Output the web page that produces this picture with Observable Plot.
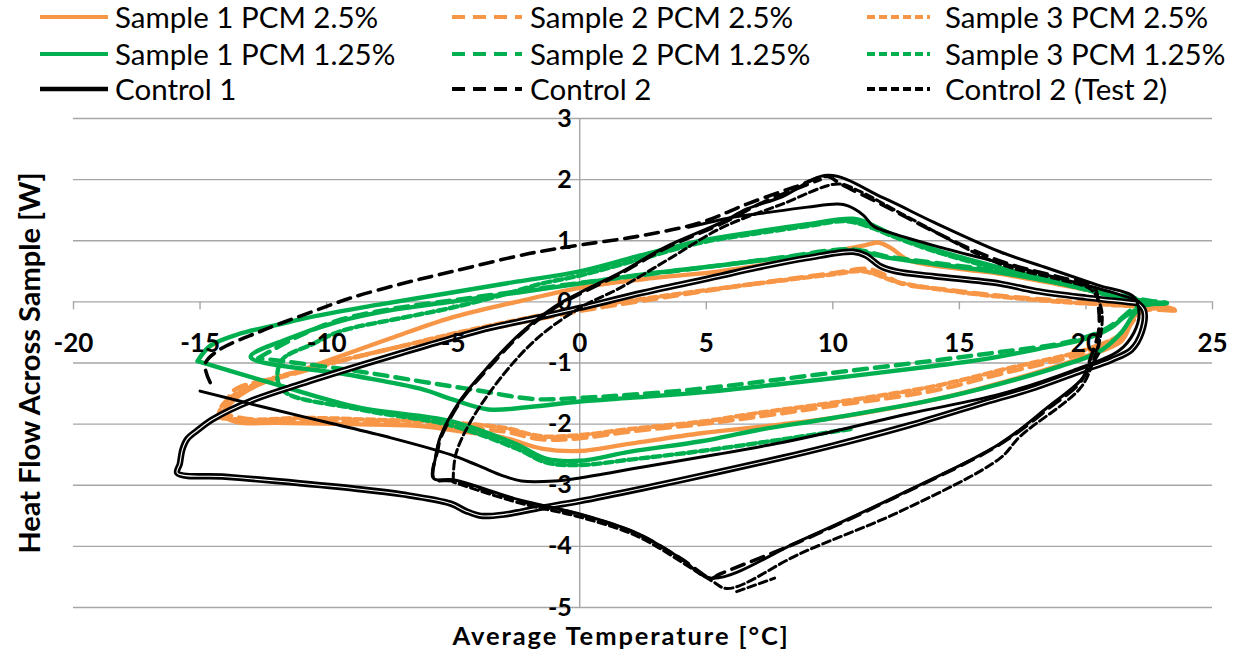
<!DOCTYPE html>
<html><head><meta charset="utf-8">
<script src="https://cdn.jsdelivr.net/npm/d3@7"></script>
<script src="https://cdn.jsdelivr.net/npm/@observablehq/plot@0.6"></script>
<style>
body{margin:0;background:#fff;font-family:Lato,"Open Sans",sans-serif;}
#legend{position:relative;height:112px;width:1239px;}
.sw{position:absolute;}
.lt{position:absolute;font-size:29.5px;line-height:22px;height:22px;white-space:nowrap;color:#000;}
</style></head><body>
<div id="legend"></div>
<div id="chart"></div>
<script>
// ---- data ----
const xTicks = [-20,-15,-10,-5,0,5,10,15,20,25];
const yTicks = [3,2,1,0,-1,-2,-3,-4,-5];
const xTitle = "Average Temperature [°C]";
const yTitle = "Heat Flow Across Sample [W]";
const seriesNames = ["Sample 1 PCM 2.5%","Sample 2 PCM 2.5%","Sample 3 PCM 2.5%",
  "Sample 1 PCM 1.25%","Sample 2 PCM 1.25%","Sample 3 PCM 1.25%",
  "Control 1","Control 2","Control 2 (Test 2)"];

const o1 = [[-14.2,-1.85],[-13.5,-1.55],[-12.6,-1.34],[-11,-1.12],[-10,-0.97],[-7.5,-0.6],[-5.1,-0.26],[-2.5,0.0],[0,0.23],[2.5,0.37],[5.5,0.5],[8,0.66],[10,0.82],[11.2,0.92],[11.8,0.97],[12.3,0.88],[13,0.68],[15,0.54],[16.6,0.46],[19,0.28],[21,0.12],[22.3,0.0],[23.5,-0.13],[22.2,-0.1],[21.9,-0.2],[21.7,-0.42],[21.4,-0.64],[19.8,-0.92],[16.6,-1.33],[14,-1.6],[10,-1.9],[7,-2.05],[4.8,-2.15],[2,-2.32],[0,-2.44],[-1.5,-2.4],[-3,-2.22],[-5,-2.1],[-6.3,-2.03],[-9,-2.0],[-12,-1.98],[-13.5,-1.97],[-14.2,-1.85]];
const o2 = [[-14,-1.75],[-13.7,-1.46],[-11.5,-1.2],[-9,-0.92],[-6.3,-0.66],[-5.1,-0.57],[-2.5,-0.35],[0,-0.15],[2.5,0.02],[5.5,0.21],[8,0.36],[10,0.47],[11.4,0.54],[12,0.45],[12.7,0.3],[14.5,0.2],[16.6,0.1],[19,0.02],[21,-0.04],[22.5,-0.1],[23.6,-0.15],[22.2,-0.15],[21.8,-0.35],[21.3,-0.6],[19.8,-0.85],[16.6,-1.18],[14,-1.45],[10,-1.7],[7,-1.88],[4.8,-2.0],[2,-2.12],[0,-2.23],[-1.5,-2.25],[-3,-2.12],[-5.1,-2.05],[-8,-1.98],[-11,-1.94],[-13,-1.92],[-14,-1.82],[-14,-1.75]];
const o3 = [[-14.3,-1.9],[-14.1,-1.68],[-13,-1.38],[-10,-1.02],[-7,-0.72],[-5,-0.52],[-2.5,-0.3],[0,-0.1],[2.5,0.05],[5.5,0.22],[8,0.35],[10,0.45],[11.2,0.5],[12.6,0.32],[15,0.16],[17,0.07],[19,0.0],[21,-0.05],[22.3,-0.1],[21.9,-0.25],[21.5,-0.5],[20,-0.78],[17,-1.08],[14,-1.38],[10,-1.65],[7,-1.82],[5,-1.95],[2,-2.08],[0,-2.18],[-1.5,-2.2],[-3,-2.06],[-5,-1.98],[-8,-1.93],[-11,-1.9],[-13,-1.93],[-14.3,-1.9]];

const g1a = [[-15.1,-0.97],[-14.6,-0.72],[-13.5,-0.53],[-12,-0.38],[-10.4,-0.23],[-8,-0.05],[-5.1,0.15],[-2.5,0.33],[0,0.5],[2.4,0.76],[4.8,1.0],[7,1.15],[9,1.27],[10.8,1.36],[11.5,1.27],[12.2,1.13],[14,0.86],[16.6,0.56],[19,0.32],[21,0.12],[22.5,0.0],[23.2,-0.02],[22.3,-0.06],[21.9,-0.2],[21.4,-0.5],[20.5,-0.82],[19,-1.05],[16.6,-1.34],[14,-1.6],[10,-1.9],[7,-2.1],[4.8,-2.28],[2,-2.45],[0,-2.6],[-1.3,-2.57],[-2.5,-2.33],[-5.1,-1.95],[-8.7,-1.73],[-12,-1.35],[-15.1,-0.97]];
const g1b = [[22.4,-0.04],[21.5,-0.25],[21,-0.42],[20,-0.6],[18,-0.78],[15.8,-0.95],[14,-1.05],[10,-1.25],[4.8,-1.48],[2,-1.57],[0,-1.63],[-2,-1.72],[-3.6,-1.76],[-5,-1.6],[-6.3,-1.42],[-9,-1.2],[-13,-0.9],[-11.5,-0.6],[-9.6,-0.33],[-7.5,-0.14],[-5.1,0.0],[-2.5,0.15],[0,0.3],[2.5,0.45],[5.6,0.6],[8,0.72],[10.7,0.84],[12.2,0.72],[14,0.62],[16.6,0.48],[19,0.3],[21,0.12],[22.5,0.0]];
const g2 = [[-12.7,-0.92],[-11.2,-0.58],[-9.6,-0.31],[-7.5,-0.12],[-5.1,0.02],[-2.5,0.17],[0,0.31],[2.5,0.44],[5.6,0.6],[8,0.73],[10.7,0.86],[12.2,0.74],[14,0.64],[16.6,0.5],[19,0.32],[21,0.14],[22.5,0.02],[23.2,-0.02],[22,-0.08],[21.3,-0.3],[20.5,-0.5],[19,-0.68],[16.6,-0.82],[14,-0.96],[10,-1.16],[4.8,-1.42],[2,-1.52],[0,-1.57],[-1.8,-1.59],[-4,-1.45],[-6.3,-1.3],[-9,-1.12],[-12.7,-0.92]];
const g3 = [[10.7,-2.08],[8,-2.25],[4.8,-2.44],[2,-2.58],[0,-2.67],[-1.3,-2.63],[-2.5,-2.4],[-5.1,-2.02],[-8.7,-1.76],[-11.8,-1.42],[-11.8,-0.97],[-10.5,-0.68],[-9.45,-0.48],[-7,-0.26],[-5.1,-0.1],[-3,0.12],[-1.5,0.3],[0,0.43],[2.4,0.7],[4.8,0.97],[7,1.12],[9,1.24],[10.5,1.32],[11.5,1.22],[12.2,1.1],[14,0.83],[16.6,0.53],[19,0.3],[21,0.1],[22.5,-0.02]];

const c1a = [[22.05,-0.02],[20,0.07],[18,0.18],[16.6,0.3],[14,0.42],[12.5,0.5],[11.9,0.58],[11.3,0.76],[10.8,0.82],[9,0.72],[7,0.56],[5.5,0.42],[2.5,0.15],[0,-0.1],[-1.8,-0.27],[-3.5,-0.42],[-5.1,-0.6],[-7,-0.83],[-9,-1.08],[-11,-1.34],[-13,-1.62],[-14.5,-1.92],[-15.1,-2.1],[-15.5,-2.24],[-15.7,-2.42],[-15.8,-2.65],[-15.9,-2.8],[-14,-2.86],[-12,-2.93],[-9,-3.05],[-7,-3.15],[-5.1,-3.3],[-4.5,-3.42],[-3.9,-3.5],[-3,-3.48],[-1.7,-3.38],[0,-3.26],[2.5,-3.05],[5.5,-2.78],[8,-2.55],[10,-2.35],[13,-2.02],[15.8,-1.67],[18,-1.4],[19.8,-1.13],[21,-0.95],[21.8,-0.78],[22.2,-0.5],[22.3,-0.15],[22.05,-0.02]];
const c1b = [[-15,-1.46],[-12.5,-1.72],[-10,-1.97],[-7.5,-2.22],[-5.1,-2.5],[-4,-2.68],[-3,-2.85],[-2.3,-2.93],[-1,-2.93],[0,-2.88],[2.5,-2.7],[5.5,-2.49],[8,-2.3],[10,-2.12],[13,-1.83],[16.6,-1.51],[19.5,-1.12],[21.3,-0.8],[21.9,-0.5],[22.1,-0.2],[21.9,0.08],[20.5,0.27],[18.5,0.55],[16.6,0.82],[14,1.3],[12,1.7],[9.8,2.07],[8,1.72],[6.6,1.52],[5.6,1.3],[3.4,0.9],[1.6,0.48],[0,0.15],[-1,-0.08],[-2.3,-0.5],[-3.6,-1.05],[-4.7,-1.6],[-5.5,-2.2],[-5.7,-2.55],[-5.77,-2.89],[-5.0,-2.91],[-2.3,-3.25],[0,-3.47],[2.3,-3.79],[4,-4.2],[5.2,-4.52],[8.7,-3.91],[12.7,-3.14],[16.6,-2.32],[18.5,-1.72],[19.8,-1.28],[20.5,-0.85]];
const c1c = [[4.3,1.22],[6,1.38],[7.2,1.45],[9,1.55],[10.2,1.6],[10.6,1.57],[11.2,1.42],[11.6,1.24],[12.2,1.14],[14,0.92],[16.6,0.64],[19,0.38],[21,0.16],[22,0.03]];
const c2 = [[-14.6,-1.32],[-14.8,-1.02],[-14.3,-0.8],[-12.6,-0.48],[-10.5,-0.15],[-9,0.07],[-7,0.3],[-5,0.5],[-2,0.79],[0,0.93],[2.4,1.08],[4.8,1.3],[6.6,1.6],[8.5,1.88],[9.8,2.05],[10.3,1.93],[12,1.58],[14,1.15],[16.6,0.67],[19,0.4],[20.3,0.25],[20.5,-0.1],[20.5,-0.48],[20.2,-0.9],[19.8,-1.3],[18.5,-1.75],[16.6,-2.33],[12.7,-3.15],[8.7,-3.92],[5.5,-4.46],[5.2,-4.52],[4,-4.2],[2.3,-3.8],[0,-3.48],[-2.3,-3.26],[-5,-2.93],[-5.77,-2.89],[-5.6,-2.4],[-5.5,-2.23],[-4.7,-1.62],[-3.6,-1.08],[-2.3,-0.52],[-1,-0.1],[0,0.13],[1.6,0.46],[3.4,0.88],[5.6,1.28],[7.2,1.62],[9.5,2.0]];
const t2a = [[-5.0,-2.93],[-4.9,-2.5],[-4.3,-1.95],[-3,-1.18],[-1.66,-0.59],[0,-0.1],[1.6,0.23],[3.6,0.72],[5.6,1.21],[8,1.6],[10.2,1.93],[11,1.82],[13,1.38],[16.6,0.62],[19,0.36],[20.2,0.2],[20.6,-0.1],[20.6,-0.5],[20.3,-0.95],[19.8,-1.4],[17.4,-2.2],[16.6,-2.56],[12.7,-3.42],[8.7,-4.12],[5.85,-4.69],[5.2,-4.56],[2.3,-3.84],[0,-3.52],[-2.3,-3.3],[-5.0,-2.95]];
const t2b = [[6.2,-4.74],[7.7,-4.52]];

// ---- styles ----
const orange = "#F79646", green = "#00B050", black = "#000000";
const longDash = "13,8", shortDash = "8,4";
const series = [
  {name: seriesNames[0], color: orange, dash: null, w: 4.4, paths: [o1]},
  {name: seriesNames[1], color: orange, dash: longDash, w: 4.4, paths: [o2]},
  {name: seriesNames[2], color: orange, dash: shortDash, w: 4.4, paths: [o3]},
  {name: seriesNames[3], color: green, dash: null, w: 4.4, paths: [g1a, g1b]},
  {name: seriesNames[4], color: green, dash: longDash, w: 4.4, paths: [g2]},
  {name: seriesNames[5], color: green, dash: shortDash, w: 4.4, paths: [g3]},
  {name: seriesNames[6], color: black, dash: null, w: 3, paths: [c1b, c1c]},
  {name: seriesNames[7], color: black, dash: longDash, w: 3.6, paths: [c2]},
  {name: seriesNames[8], color: black, dash: shortDash, w: 3, paths: [t2a, t2b]}
];
function rows(paths){ const r=[]; paths.forEach((p,i)=>p.forEach(([x,y])=>r.push({x,y,k:i}))); return r; }

// ---- legend (HTML above the SVG) ----
const leg = document.getElementById("legend");
const cols = [{sx:40, sw:68, tx:115},{sx:452, sw:70, tx:530},{sx:867, sw:63, tx:945}];
const rowsY = [17, 54, 89];
series.forEach((s, idx) => {
  const c = cols[idx % 3], ry = rowsY[Math.floor(idx / 3)];
  const lw = idx === 6 ? 4.5 : 4.2;
  const sv = document.createElementNS("http://www.w3.org/2000/svg","svg");
  sv.setAttribute("class","sw"); sv.setAttribute("width", c.sw); sv.setAttribute("height", 10);
  sv.style.left = c.sx + "px"; sv.style.top = (ry - 5) + "px";
  const ln = document.createElementNS("http://www.w3.org/2000/svg","line");
  ln.setAttribute("x1",0); ln.setAttribute("x2",c.sw); ln.setAttribute("y1",5); ln.setAttribute("y2",5);
  ln.setAttribute("stroke", s.color); ln.setAttribute("stroke-width", lw);
  if (s.dash) ln.setAttribute("stroke-dasharray", s.dash);
  sv.appendChild(ln); leg.appendChild(sv);
  const t = document.createElement("div"); t.className="lt"; t.textContent = s.name;
  t.style.left = c.tx + "px"; t.style.top = (ry - 11) + "px"; leg.appendChild(t);
});

// ---- chart ----
const grid = "#a6a6a6";
const lineOpts = {x:"x", y:"y", z:"k", strokeLinejoin:"round", curve:"catmull-rom"};
const marks = [
  Plot.ruleY(yTicks, {stroke: grid, strokeWidth: 1.4}),
  Plot.ruleX([0], {stroke: grid, strokeWidth: 1.4}),
  Plot.ruleX(xTicks, {x: d => d, y1: 0, y2: -0.13, stroke: grid, strokeWidth: 1.4})
];
series.slice(0,6).forEach(s => marks.push(Plot.line(rows(s.paths), {...lineOpts, stroke: s.color, strokeWidth: s.w, strokeDasharray: s.dash || undefined})));
// Control 1 main loop: drawn as a double line
marks.push(Plot.line(rows([c1a]), {...lineOpts, stroke: black, strokeWidth: 6.4}));
marks.push(Plot.line(rows([c1a]), {...lineOpts, stroke: "#fff", strokeWidth: 1.1}));
series.slice(6).forEach(s => marks.push(Plot.line(rows(s.paths), {...lineOpts, stroke: s.color, strokeWidth: s.w, strokeDasharray: s.dash || undefined})));
marks.push(
  Plot.text(xTicks, {x: d => d, y: 0, dy: 42, text: d => String(d), fontSize: 26, fontWeight: "bold", fill: "#000"}),
  Plot.text(yTicks, {x: 0, y: d => d, dx: -8, textAnchor: "end", text: d => String(d), fontSize: 25, fontWeight: "bold", fill: "#000"}),
  Plot.text([xTitle], {frameAnchor: "bottom", textAnchor: "middle", lineAnchor: "middle", dx: -22, dy: 29.5, text: d => d, fontSize: 25.5, fontWeight: "bold", fill: "#000"}),
  Plot.text([yTitle], {frameAnchor: "left", textAnchor: "middle", lineAnchor: "middle", dx: -43, rotate: -90, text: d => d, fontSize: 29, fontWeight: "bold", fill: "#000"})
);
const chart = Plot.plot({
  width: 1239, height: 538,
  marginLeft: 73, marginRight: 27, marginTop: 6, marginBottom: 43,
  x: {domain: [-20, 25], axis: null},
  y: {domain: [-5, 3], axis: null},
  style: {fontFamily: "Lato, 'Open Sans', sans-serif", background: "#fff", overflow: "visible"},
  marks
});
// widen the x-axis title slightly (letter spacing) to match the reference width
chart.querySelectorAll("text").forEach(t => { if (t.textContent === xTitle) t.style.letterSpacing = "1.9px"; });
document.getElementById("chart").appendChild(chart);
</script></body></html>
